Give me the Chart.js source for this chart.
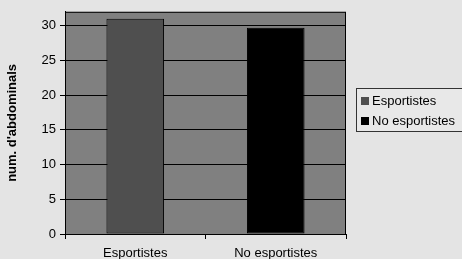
<!DOCTYPE html>
<html>
<head>
<meta charset="utf-8">
<script src="https://cdn.jsdelivr.net/npm/chart.js@4"></script>
<style>
  html, body { margin: 0; padding: 0; background: #e4e4e4; }
  #wrap { width: 462px; height: 259px; position: relative; }
</style>
</head>
<body>
<div id="wrap"><canvas id="chart" width="462" height="259"></canvas></div>
<script>
// ========== dades ==========
const categories = ['Esportistes', 'No esportistes'];
const values = [31, 29.7];
const barColors = ['#4f4f4f', '#000000'];
const yTicks = [0, 5, 10, 15, 20, 25, 30];
const yTitle = "num. d'abdominals";

const FONT = 'Liberation Sans, Arial, sans-serif';

// fons gris de l'àrea i marc negre
const plotFrame = {
    id: 'plotFrame',
    beforeDraw(chart) {
        const { ctx, chartArea: a } = chart;
        ctx.save();
        ctx.fillStyle = '#808080';
        ctx.fillRect(a.left, a.top, a.right - a.left, a.bottom - a.top);
        ctx.restore();
    },
    afterDraw(chart) {
        const { ctx, chartArea: a } = chart;
        ctx.save();
        ctx.strokeStyle = '#000';
        ctx.lineWidth = 1;
        ctx.strokeRect(a.left + 0.5, a.top + 0.5, a.right - a.left - 1, a.bottom - a.top);
        ctx.restore();
    }
};

// llegenda en caixa com l'original
const boxLegend = {
    id: 'boxLegend',
    afterDraw(chart) {
        const ctx = chart.ctx;
        const x = 356, y = 88, w = 110, h = 43;
        ctx.save();
        ctx.fillStyle = '#e8e8e8';
        ctx.fillRect(x, y, w, h);
        ctx.strokeStyle = '#333';
        ctx.lineWidth = 1;
        ctx.strokeRect(x + 0.5, y + 0.5, w, h);
        ctx.font = '13px ' + FONT;
        ctx.textBaseline = 'middle';
        categories.forEach((c, i) => {
            const cy = y + 13 + i * 20;
            ctx.fillStyle = barColors[i];
            ctx.fillRect(x + 5, cy - 4, 8, 8);
            ctx.fillStyle = '#000';
            ctx.fillText(c, x + 16, cy);
        });
        ctx.restore();
    }
};

new Chart(document.getElementById('chart'), {
    type: 'bar',
    data: {
        labels: categories,
        datasets: [{
            label: 'abdominals',
            data: values,
            backgroundColor: barColors,
            borderColor: '#000',
            borderWidth: 1,
            borderSkipped: false,
            categoryPercentage: 0.41,
            barPercentage: 1
        }]
    },
    options: {
        responsive: false,
        animation: false,
        layout: { padding: { top: 10, right: 116, left: 0, bottom: 0 } },
        plugins: {
            legend: { display: false },
            tooltip: { enabled: false }
        },
        scales: {
            x: {
                grid: { display: true, drawOnChartArea: false, color: '#000', tickLength: 5, offset: true },
                border: { display: true, color: '#000' },
                ticks: { color: '#000', font: { family: FONT, size: 13 }, padding: 7 },
                afterFit: s => { s.height = 25; }
            },
            y: {
                min: 0,
                max: 32,
                afterBuildTicks: s => { s.ticks = yTicks.map(v => ({ value: v })); },
                grid: { color: '#000', tickLength: 5 },
                border: { display: true, color: '#000' },
                ticks: { color: '#000', font: { family: FONT, size: 13 }, padding: 4 },
                title: {
                    display: true,
                    text: yTitle,
                    color: '#000',
                    font: { family: FONT, size: 13, weight: 'bold' },
                    padding: { top: 5, bottom: 0 }
                },
                afterFit: s => { s.width = 65; }
            }
        }
    },
    plugins: [plotFrame, boxLegend]
});
</script>
</body>
</html>
